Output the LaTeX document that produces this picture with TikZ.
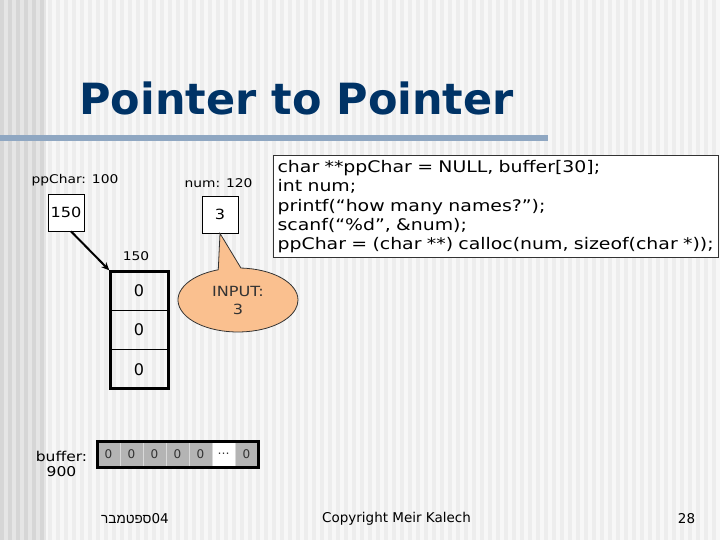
\documentclass[tikz,border=0pt]{standalone}
\usepackage{fontspec}
\setmainfont{DejaVu Sans}
\newfontfamily\plainfont{DejaVu Sans}
\newfontfamily\widefont{DejaVu Sans}[FakeStretch=1.15]
\newfontfamily\codefont{DejaVu Sans}[FakeStretch=1.18]
\newfontfamily\hebfont[Script=Hebrew]{Liberation Sans}
\TeXXeTstate=1
\usepackage{tikz}
\usetikzlibrary{positioning,arrows.meta,shapes.callouts}
\definecolor{navy}{RGB}{0,51,102}
\definecolor{rule}{RGB}{143,167,194}
\definecolor{peach}{RGB}{250,192,143}
\definecolor{bufgray}{RGB}{180,180,180}
\definecolor{ink}{RGB}{51,51,51}
\tikzset{
  lbl/.style={font=\widefont\fontsize{12}{14}\selectfont,inner sep=0pt},
  valbox/.style={draw,fill=white,line width=0.8pt,minimum width=36pt,minimum height=37pt,inner sep=0pt,font=\widefont\fontsize{14}{16}\selectfont},
  cell/.style={draw,line width=1.5pt,minimum width=58pt,minimum height=39.3pt,inner sep=0pt,outer sep=0pt,font=\plainfont\fontsize{16}{18}\selectfont},
  bufcell/.style={draw=white!85!black,line width=1pt,minimum width=23pt,minimum height=26pt,inner sep=0pt,outer sep=0pt,text=ink,font=\plainfont\fontsize{12}{14}\selectfont},
  arrframe/.style={line width=3pt},
  ptr/.style={line width=2pt,-{Stealth[length=8pt,width=7pt]},shorten >=1pt},
  codebox/.style={draw=ink,fill=white,line width=1.2pt,anchor=north west,align=left,text width=437pt,minimum height=102pt,inner xsep=4pt,inner ysep=3pt,font=\codefont\fontsize{16}{19.3}\selectfont},
  bubble/.style={ellipse callout,draw=ink,fill=peach,line width=0.8pt,minimum width=120pt,minimum height=64pt,inner sep=0pt,callout pointer arc=22,align=center,text=ink,font=\widefont\fontsize{14}{18}\selectfont},
  footer/.style={font=\plainfont\fontsize{13.5}{16}\selectfont,inner sep=0pt}
}
\begin{document}
\begin{tikzpicture}[x=1pt,y=-1pt]
  \useasboundingbox (0,0) rectangle (720,540);
  \fill[black!3] (0,0) rectangle (720,540);
  \fill[black!10] (0,0) rectangle (46,540);
  \foreach \x in {0,8,...,712} {
    \pgfmathsetmacro\s{\x<46 ? 16 : 7}
    \fill[black!\s] (\x,0) rectangle ++(4,540);
  }
  \draw[rule,line width=5.5pt] (0,138) -- (548,138);
  \node[anchor=base west,inner sep=0pt,text=navy,font=\plainfont\bfseries\fontsize{43}{43}\selectfont] (title) at (79,115) {Pointer to Pointer};

  \node[lbl] (pplbl) at (75,180) {ppChar: 100};
  \node[valbox] (ppval) at (66,212.5) {150};
  \node[lbl] (numlbl) at (218.5,183) {num: 120};
  \node[valbox] (numval) at (220,214.5) {3};
  \node[lbl] (arrlbl) at (136,256) {150};

  \node[cell] (arr0) at (139,290.7) {0};
  \node[cell,below=0pt of arr0] (arr1) {0};
  \node[cell,below=0pt of arr1] (arr2) {0};
  \draw[arrframe] (arr0.north west) rectangle (arr2.south east);
  \draw[ptr] (ppval.-75) -- (arr0.north west);

  \node[bubble,callout absolute pointer={(numval.south)}] (input) at (238,300) {INPUT:\\3};

  \node[codebox] (code) at (273,155) {char **ppChar = NULL, buffer[30];\\
    int num;\\
    printf(“how many names?”);\\
    scanf(“\%d”, \&num);\\
    ppChar = (char **) calloc(num, sizeof(char *));};

  \node[lbl,align=center,font=\widefont\fontsize{13.5}{14.5}\selectfont] (buflbl) at (61.5,464) {buffer:\\900};
  \foreach \v/\c [count=\i] in {0/bufgray,0/bufgray,0/bufgray,0/bufgray,0/bufgray,\ldots/white,0/bufgray}
    \node[bufcell,fill=\c] (buf\i) at ({97+23*(\i-0.5)},454) {\v};
  \draw[arrframe] (buf1.north west) rectangle (buf7.south east);

  \node[footer] (date) at (135,519) {{\hebfont\beginR ספטמבר\endR}04};
  \node[footer] (copy) at (396.5,519) {Copyright Meir Kalech};
  \node[footer] (page) at (686.5,519) {28};
\end{tikzpicture}
\end{document}
